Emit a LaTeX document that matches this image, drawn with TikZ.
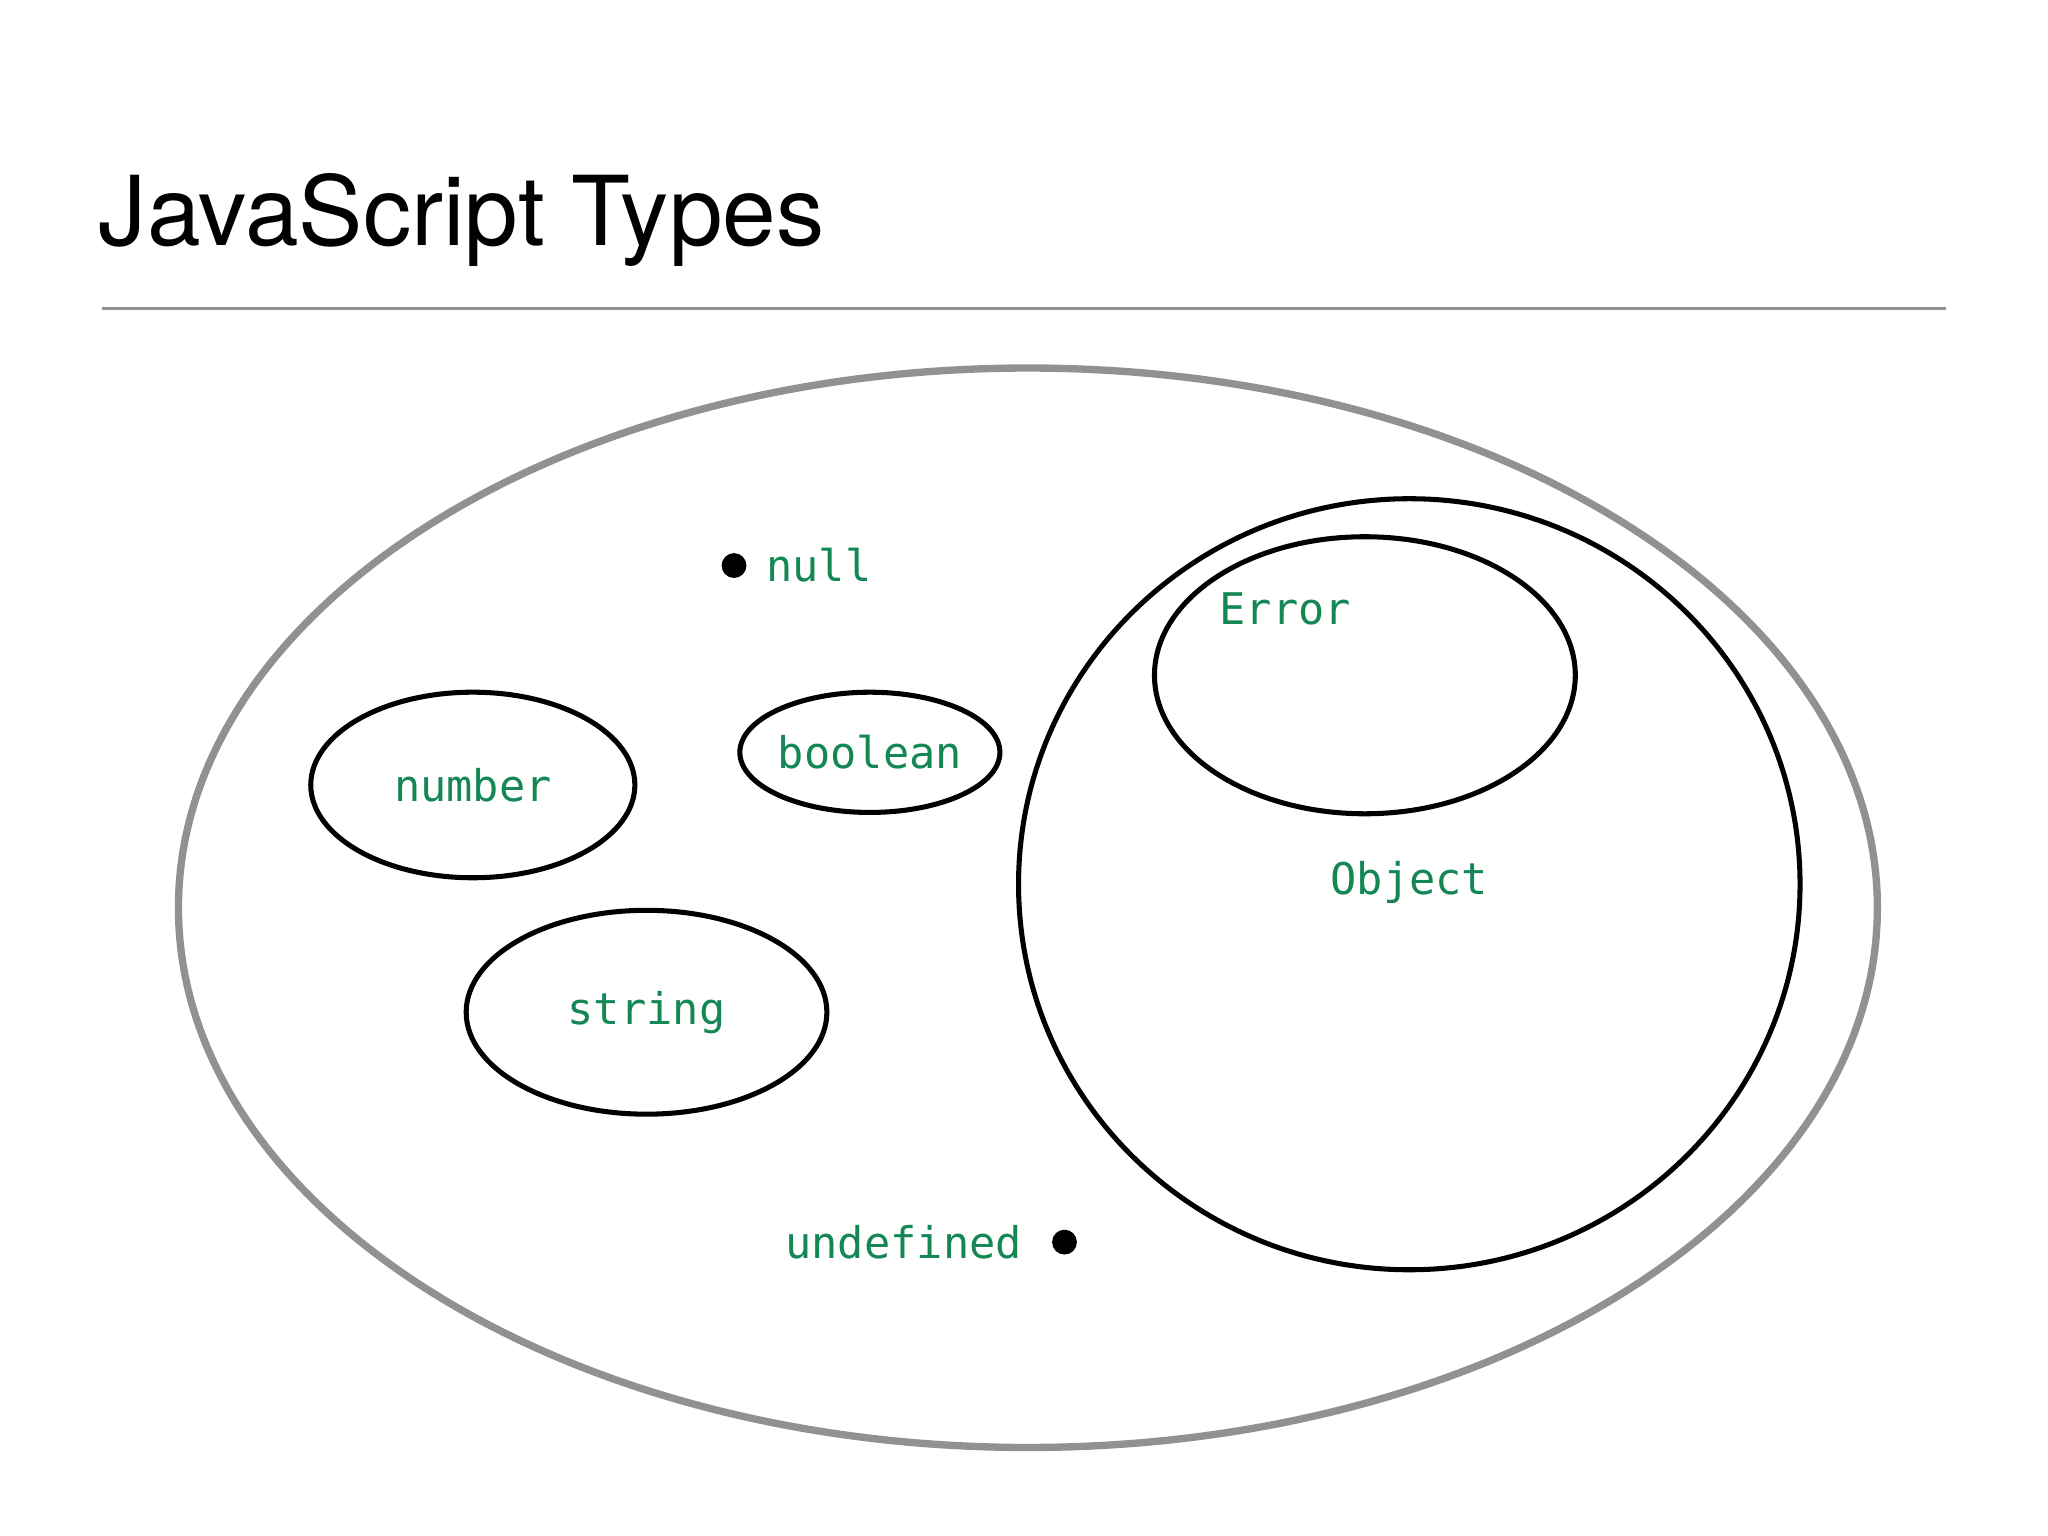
\documentclass[tikz,border=0pt]{standalone}
\usepackage{fontspec}
\setmainfont{TeX Gyre Heros}
\setmonofont{DejaVu Sans Mono}
\usetikzlibrary{shapes.geometric,positioning}
\definecolor{typegreen}{RGB}{20,135,85}
\definecolor{rulegray}{RGB}{145,145,145}

\begin{document}
\begin{tikzpicture}[
    x=0.01cm, y=-0.01cm,
    set/.style={ellipse, draw=black, line width=1.1pt, inner sep=0pt},
    tname/.style={font=\ttfamily\fontsize{9.5}{11}\selectfont, text=typegreen},
    dot/.style={circle, fill=black, minimum size=0.19cm, inner sep=0pt}
]
    \useasboundingbox (0,0) rectangle (1568,1176);
    % Title
    \node[anchor=base west, inner sep=0pt, font=\fontsize{21}{24}\selectfont] (title) at (75,188) {JavaScript Types};
    \draw[rulegray, line width=0.6pt] (78,236) -- (1490,236);

    % Sets
    \node[set, draw=rulegray, line width=1.6pt, minimum width=13cm, minimum height=8.26cm] (all) at (787,695) {};
    \node[set, minimum width=5.98cm, minimum height=5.9cm] (object) at (1079,677) {};
    \node[set, minimum width=3.22cm, minimum height=2.12cm] (error) at (1045,517) {};
    \node[set, minimum width=2.48cm, minimum height=1.42cm, tname] (number) at (362,601) {number};
    \node[set, minimum width=1.94cm, minimum height=0.92cm, tname] (boolean) at (666,576) {boolean};
    \node[set, minimum width=2.76cm, minimum height=1.56cm, tname] (string) at (495,775) {string};

    % Labels
    \node[tname] (errlabel) at (984,466) {Error};
    \node[tname] (objlabel) at (1079,676) {Object};
    \node[dot] (nulldot) at (562,433) {};
    \node[tname, right=0.02cm of nulldot] (null) {null};
    \node[dot] (undefdot) at (815,951) {};
    \node[tname, left=0.1cm of undefdot] (undefined) {undefined};
\end{tikzpicture}
\end{document}
